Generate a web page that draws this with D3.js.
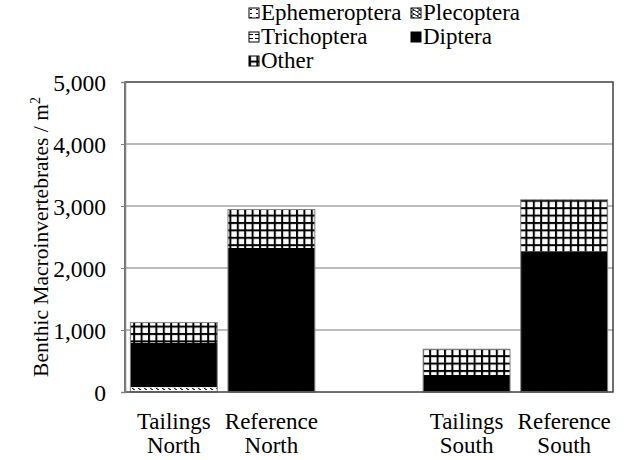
<!DOCTYPE html>
<html>
<head>
<meta charset="utf-8">
<script src="https://cdn.jsdelivr.net/npm/d3@7"></script>
<style>
  body { margin: 0; background: #fff; }
</style>
</head>
<body>
<div id="viz"></div>
<script>
const margin = {top: 82, right: 13, bottom: 68, left: 125};
const width = 626;
const height = 460;
const serif = "Liberation Serif, Times New Roman, serif";

// Data (third slot is the empty gap)
const sites = ['Tailings North', 'Reference North', '', 'Tailings South', 'Reference South'];
const groups = ['Ephemeroptera', 'Plecoptera', 'Trichoptera', 'Diptera', 'Other'];
const ephemeroptera = [45, 5, null, 3, 5];
const plecoptera = [25, 3, null, 2, 3];
const trichoptera = [10, 5, null, 5, 5];
const diptera = [710, 2310, null, 265, 2257];
const other = [330, 620, null, 415, 830];
const yTicks = [0, 1000, 2000, 3000, 4000, 5000];

const series = [ephemeroptera, plecoptera, trichoptera, diptera, other];
const rows = sites.map((s, i) => {
  const r = {site: s, key: 'k' + i};
  groups.forEach((g, j) => { r[g] = series[j][i] || 0; });
  return r;
}).filter(r => r.site !== '');

const svg = d3.select('#viz')
  .append('svg')
    .attr('width', width)
    .attr('height', height)
    .attr('font-family', serif);

// patterns
const defs = svg.append('defs');
const pat = (id, w, h) => defs.append('pattern')
  .attr('id', id).attr('patternUnits', 'userSpaceOnUse')
  .attr('width', w).attr('height', h);

const pEph = pat('p-eph', 6, 4);
pEph.append('rect').attr('width', 6).attr('height', 4).attr('fill', '#fff');
pEph.append('rect').attr('x', 1).attr('y', 1).attr('width', 2).attr('height', 1).attr('fill', '#000');

const pPle = pat('p-ple', 6, 4);
pPle.append('rect').attr('width', 6).attr('height', 4).attr('fill', '#fff');
pPle.append('path').attr('d', 'M0,0 L6,4 M0,4 L3,2').attr('stroke', '#000').attr('stroke-width', 1);

const pTri = pat('p-tri', 6, 4);
pTri.append('rect').attr('width', 6).attr('height', 4).attr('fill', '#fff');
pTri.append('rect').attr('x', 0).attr('y', 2).attr('width', 4).attr('height', 1).attr('fill', '#000');

const pOth = pat('p-oth', 7.4, 7.4);
pOth.append('rect').attr('width', 7.4).attr('height', 7.4).attr('fill', '#fff');
pOth.append('rect').attr('x', 0).attr('y', 0).attr('width', 2).attr('height', 7.4).attr('fill', '#000');
pOth.append('rect').attr('x', 0).attr('y', 0).attr('width', 7.4).attr('height', 2).attr('fill', '#000');

const fills = {
  Ephemeroptera: 'url(#p-eph)',
  Plecoptera: 'url(#p-ple)',
  Trichoptera: 'url(#p-tri)',
  Diptera: '#000',
  Other: 'url(#p-oth)'
};

// scales
const xScale = d3.scaleBand()
  .domain(sites.map((s, i) => 'k' + i))
  .range([margin.left, width - margin.right])
  .paddingInner(0.11)
  .paddingOuter(0.055);
const yScale = d3.scaleLinear()
  .domain([0, 5000])
  .range([height - margin.bottom, margin.top]);

// gridlines
svg.append('g')
  .selectAll('line')
  .data(yTicks.slice(1, -1))
  .join('line')
    .attr('x1', margin.left)
    .attr('x2', width - margin.right)
    .attr('y1', d => yScale(d))
    .attr('y2', d => yScale(d))
    .attr('stroke', '#a6a6a6')
    .attr('stroke-width', 1.5);

// bars
const stack = d3.stack().keys(groups)(rows);
svg.append('g')
  .selectAll('g')
  .data(stack)
  .join('g')
    .attr('fill', d => fills[d.key])
  .selectAll('rect')
  .data(d => d)
  .join('rect')
    .attr('x', d => xScale(d.data.key))
    .attr('width', xScale.bandwidth())
    .attr('y', d => yScale(d[1]))
    .attr('height', d => yScale(d[0]) - yScale(d[1]));

// bar outlines
svg.append('g')
  .selectAll('rect')
  .data(rows)
  .join('rect')
    .attr('x', d => xScale(d.key))
    .attr('width', xScale.bandwidth())
    .attr('y', d => yScale(d3.sum(groups, g => d[g])))
    .attr('height', d => yScale(0) - yScale(d3.sum(groups, g => d[g])))
    .attr('fill', 'none')
    .attr('stroke', '#808080')
    .attr('stroke-width', 1);

// plot frame
svg.append('rect')
  .attr('x', margin.left)
  .attr('y', margin.top)
  .attr('width', width - margin.left - margin.right)
  .attr('height', height - margin.top - margin.bottom)
  .attr('fill', 'none')
  .attr('stroke', '#404040')
  .attr('stroke-width', 1.5);

// y axis
const yAxis = d3.axisLeft(yScale)
  .tickValues(yTicks)
  .tickFormat(d3.format(','))
  .tickSize(4)
  .tickPadding(15);
const yAxisGroup = svg.append('g')
  .attr('transform', `translate(${margin.left}, 0)`)
  .call(yAxis)
  .attr('font-family', serif)
  .attr('font-size', 23.5);
yAxisGroup.select('.domain').attr('stroke', '#808080').attr('stroke-width', 1.5);
yAxisGroup.selectAll('.tick line').attr('stroke', '#808080');
yAxisGroup.selectAll('.tick text').attr('fill', '#000').attr('dy', '0.34em');

// y title
const yTitle = svg.append('text')
  .attr('transform', `translate(48, ${(margin.top + height - margin.bottom) / 2}) rotate(-90)`)
  .attr('text-anchor', 'middle')
  .attr('font-size', 21.5);
yTitle.append('tspan').text('Benthic Macroinvertebrates / m');
yTitle.append('tspan').attr('dy', -8).attr('font-size', 14).text('2');

// x labels
const xLabels = svg.append('g')
  .selectAll('text')
  .data(rows)
  .join('text')
    .attr('x', d => xScale(d.key) + xScale.bandwidth() / 2)
    .attr('y', 429)
    .attr('text-anchor', 'middle')
    .attr('font-size', 23);
xLabels.selectAll('tspan')
  .data(d => d.site.split(' '))
  .join('tspan')
    .attr('x', function() { return this.parentNode.getAttribute('x'); })
    .attr('dy', (d, i) => i === 0 ? 0 : 24)
    .text(d => d);

// legend
const legendPos = [[249, 20], [411, 20], [249, 44], [411, 44], [249, 68]];
const legend = svg.append('g')
  .selectAll('g')
  .data(groups)
  .join('g')
    .attr('transform', (d, i) => `translate(${legendPos[i][0]}, ${legendPos[i][1]})`);
legend.append('rect')
  .attr('x', 0)
  .attr('y', -12)
  .attr('width', 10)
  .attr('height', 10)
  .attr('fill', d => fills[d])
  .attr('stroke', '#000')
  .attr('stroke-width', 1);
legend.append('text')
  .attr('x', 12)
  .attr('y', 0)
  .attr('font-size', 23)
  .text(d => d);
</script>
</body>
</html>
